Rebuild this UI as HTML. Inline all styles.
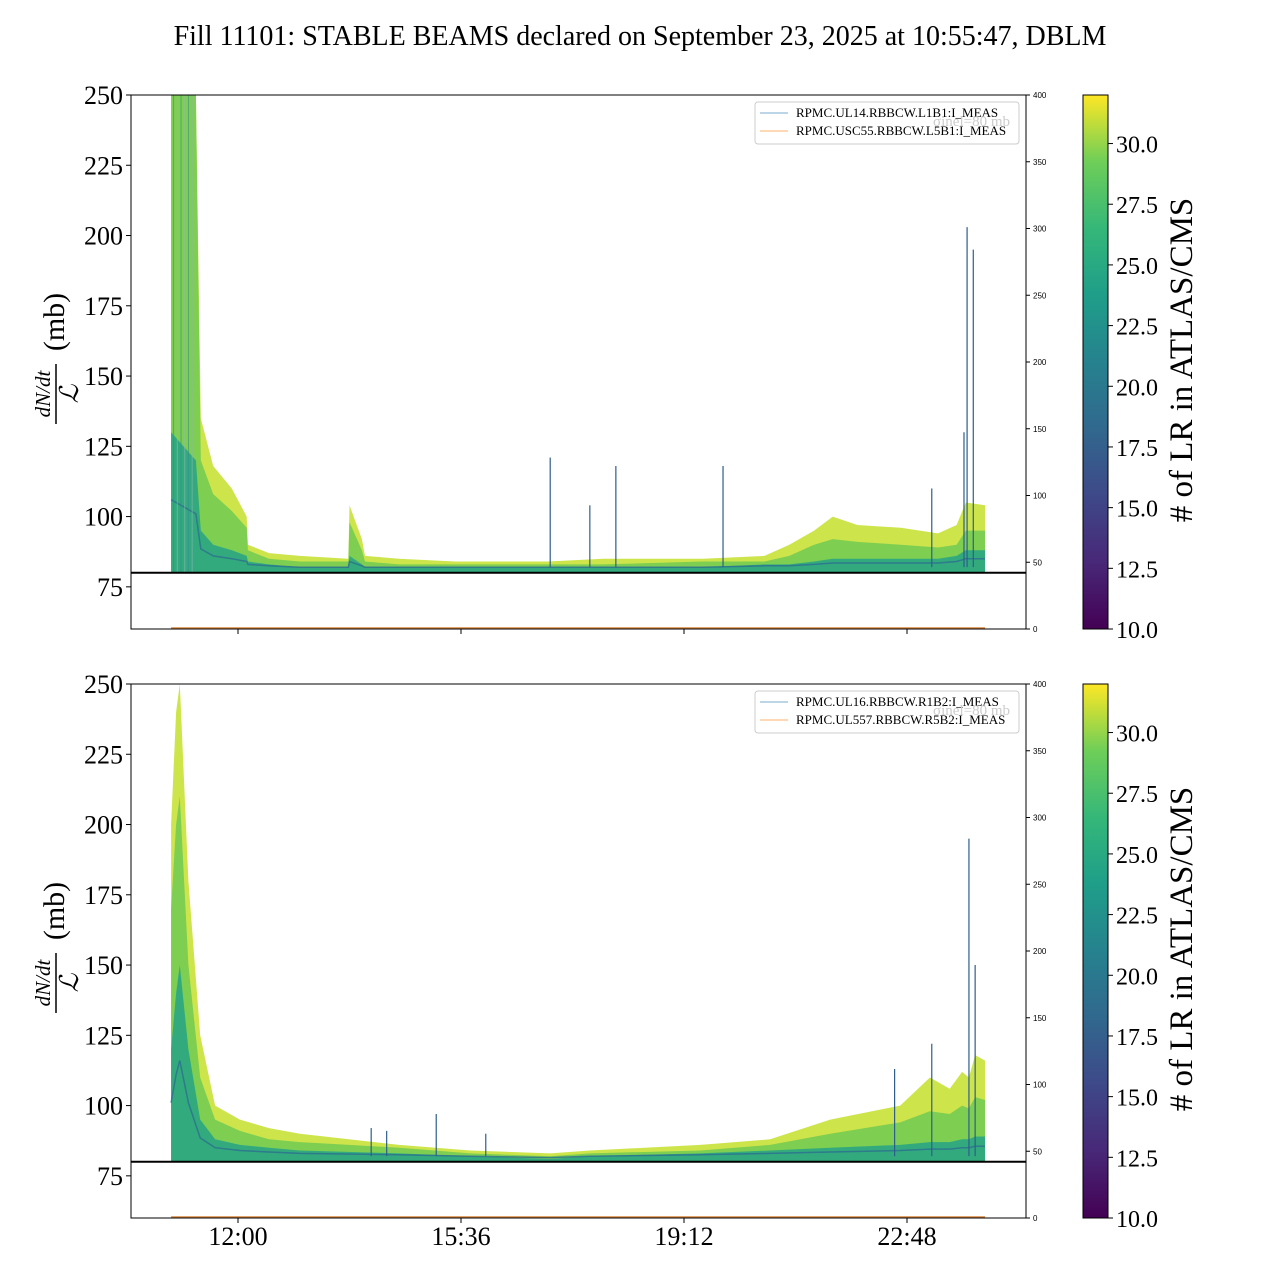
<!DOCTYPE html>
<html><head><meta charset="utf-8">
<style>
body{margin:0;background:#fff;}
svg{display:block;font-family:"Liberation Serif",serif;}
</style></head>
<body>
<svg id="fig" width="1280" height="1280" viewBox="0 0 1280 1280" xmlns="http://www.w3.org/2000/svg">
<defs>
<linearGradient id="vir" x1="0" y1="1" x2="0" y2="0">
<stop offset="0" stop-color="#440154"/><stop offset="0.125" stop-color="#482878"/><stop offset="0.25" stop-color="#3e4989"/>
<stop offset="0.375" stop-color="#31688e"/><stop offset="0.5" stop-color="#26828e"/><stop offset="0.625" stop-color="#1f9e89"/>
<stop offset="0.75" stop-color="#35b779"/><stop offset="0.875" stop-color="#6ece58"/><stop offset="1" stop-color="#fde725"/>
</linearGradient>
</defs>
<text x="640" y="45" text-anchor="middle" font-size="28">Fill 11101: STABLE BEAMS declared on September 23, 2025 at 10:55:47, DBLM</text>
</svg>
<script>
// ---- data (hours since midnight, value in mb) ----
const xTickLabels = ["12:00","15:36","19:12","22:48"];
const xTickHours = [12, 15.6, 19.2, 22.8];
const yTicks = [75,100,125,150,175,200,225,250];
const rTicks = [0,50,100,150,200,250,300,350,400];
const cbTicks = [10,12.5,15,17.5,20,22.5,25,27.5,30];

const topTimes  = [10.92,11.32,11.4,11.6,11.9,12.14,12.16,12.5,13.0,13.78,13.8,14.0,14.05,14.6,15.5,17.0,17.9,19.5,20.5,20.9,21.3,21.6,22.0,22.7,23.3,23.6,23.75,24.06];
const topUpper  = [250,250,135,118,110,100,90,87,86,85,104,92,86,85,84,84,85,85,86,90,95,100,97,96,94,97,105,104];
const topMid    = [250,250,120,108,102,96,88,85,84,84,98,88,84,83,83,83,83,84,84,86,90,92,91,90,89,90,95,95];
const topCore   = [130,120,95,90,88,86,84,83,82,82,86,83,82,82,82,82,82,82,83,83,84,85,85,85,85,86,88,88];
const topSpikeT = [17.04,17.68,18.1,19.83,23.2,23.72,23.77,23.87];
const topSpikeV = [121,104,118,118,110,130,203,195];

const botTimes  = [10.92,11.0,11.06,11.2,11.39,11.63,12.03,12.5,13.0,14.6,15.75,17.04,17.68,19.46,20.59,21.56,22.69,23.17,23.49,23.69,23.8,23.9,24.06];
const botUpper  = [200,240,250,180,125,100,95,92,90,86,84,83,84,86,88,95,100,110,106,112,110,118,116];
const botMid    = [170,200,210,150,110,95,91,88,87,85,83,82,83,84,86,90,94,98,97,100,99,103,102];
const botCore   = [120,140,150,120,95,88,86,85,84,83,82,81,82,83,84,85,86,87,87,88,88,89,89];
const botSpikeT = [14.15,14.4,15.2,16.0,22.6,23.2,23.8,23.9];
const botSpikeV = [92,91,97,90,113,122,195,150];

const NS="http://www.w3.org/2000/svg";
const svg=document.getElementById('fig');
function mk(tag,attrs,parent){const e=document.createElementNS(NS,tag);for(const k in attrs)e.setAttribute(k,attrs[k]);(parent||svg).appendChild(e);return e;}
const X0=131,X1=1026;
const hx=h=>238+(h-12)/3.6*223;

function panel(top,times,upper,mid,core,spT,spV,leg,pname,streaks){
  const Y0=top, Y1=top+534;
  const yv=v=>Y1-(v-60)/190*534;
  const g=mk('g',{});
  
  
  mk('rect',{x:X0,y:Y0,width:X1-X0,height:Y1-Y0,fill:'#fff'},g);
  function area(vals,color,op,name){
    let d='M'+hx(times[0])+','+yv(80);
    times.forEach((t,i)=>{d+=' L'+hx(t).toFixed(1)+','+yv(Math.min(250,vals[i])).toFixed(1);});
    d+=' L'+hx(times[times.length-1])+','+yv(80)+'Z';
    const p=mk('path',{d:d,fill:color,'fill-opacity':op},g);
    
    
  }
  area(upper,'#c5df2b',0.85,'upper-band');
  area(mid,'#74cb52',0.9,'mid-band');
  area(core,'#2aa683',0.9,'core-band');
  let d='';times.forEach((t,i)=>{d+=(i?' L':'M')+hx(t).toFixed(1)+','+yv(Math.min(250,(core[i]+80)/2+1)).toFixed(1);});
  const cl=mk('path',{d:d,fill:'none',stroke:'#2c6f8e','stroke-width':1.5,'stroke-opacity':0.8},g);
  
  
  if(streaks){
    for(let k=0;k<6;k++){
      const t=times[0]+0.04+k*0.06;
      const s=mk('line',{x1:hx(t),x2:hx(t),y1:yv(80),y2:yv(250),stroke:k%2?'#8fb7b5':'#3b8a8c','stroke-width':1,'stroke-opacity':0.6},g);
      
      
    }
  }
  spT.forEach((t,i)=>{
    const s=mk('line',{x1:hx(t),x2:hx(t),y1:yv(82),y2:yv(spV[i]),stroke:'#2d5e8c','stroke-width':1.2},g);
    
    
  });
  const l80=mk('line',{x1:X0,x2:X1,y1:yv(80),y2:yv(80),stroke:'#000','stroke-width':2},g);
  
  
  const cur=mk('line',{x1:hx(times[0]),x2:hx(times[times.length-1]),y1:Y1-1,y2:Y1-1,stroke:'#d9853b','stroke-width':1.5},g);
  
  
  mk('rect',{x:X0,y:Y0,width:X1-X0,height:Y1-Y0,fill:'none',stroke:'#000','stroke-width':1},g);
  yTicks.forEach(v=>{
    mk('line',{x1:X0-5,x2:X0,y1:yv(v),y2:yv(v),stroke:'#000'},g);
    const t=mk('text',{x:X0-8,y:yv(v)+9,'text-anchor':'end','font-size':26},g);
    t.textContent=v;
    
    
  });
  rTicks.forEach(v=>{
    const y=Y1-v/400*534;
    mk('line',{x1:X1,x2:X1+4,y1:y,y2:y,stroke:'#000'},g);
    const t=mk('text',{x:X1+7,y:y+3,'font-size':8,'font-family':'Liberation Sans, sans-serif'},g);
    t.textContent=v;
    
    
  });
  xTickHours.forEach(h=>{mk('line',{x1:hx(h),x2:hx(h),y1:Y1,y2:Y1+5,stroke:'#000'},g);});
  const yl=mk('g',{transform:`translate(56,${(Y0+Y1)/2}) rotate(-90)`},g);
  
  
  let t=mk('text',{x:-32,y:-6,'text-anchor':'middle','font-size':21,'font-style':'italic'},yl);t.textContent='dN/dt';
  mk('line',{x1:-62,x2:-2,y1:0,y2:0,stroke:'#000','stroke-width':1.5},yl);
  t=mk('text',{x:-32,y:22,'text-anchor':'middle','font-size':26,'font-style':'italic'},yl);t.textContent='ℒ';
  t=mk('text',{x:40,y:8,'text-anchor':'middle','font-size':30},yl);t.textContent='(mb)';
  const lg=mk('g',{},g);
  
  
  mk('rect',{x:755,y:Y0+7,width:264,height:42,rx:3,fill:'#fff','fill-opacity':0.85,stroke:'#ccc'},lg);
  mk('line',{x1:760,x2:788,y1:Y0+18,y2:Y0+18,stroke:'#1f77b4','stroke-opacity':0.6},lg);
  mk('line',{x1:760,x2:788,y1:Y0+36,y2:Y0+36,stroke:'#ff7f0e','stroke-opacity':0.6},lg);
  t=mk('text',{x:796,y:Y0+22,'font-size':13},lg);t.textContent=leg[0];
  t=mk('text',{x:796,y:Y0+40,'font-size':13},lg);t.textContent=leg[1];
  t=mk('text',{x:1010,y:Y0+31,'text-anchor':'end','font-size':15,fill:'#ccc'},lg);t.textContent='σinel=80 mb';
  const cb=mk('g',{},g);
  
  
  mk('rect',{x:1083,y:Y0,width:25,height:534,fill:'url(#vir)',stroke:'#000'},cb);
  cbTicks.forEach(v=>{
    const y=Y1-(v-10)/22*534;
    mk('line',{x1:1108,x2:1113,y1:y,y2:y,stroke:'#000'},cb);
    const tt=mk('text',{x:1116,y:y+9,'font-size':24},cb);tt.textContent=v.toFixed(1);
    
    
  });
  const ct=mk('text',{x:0,y:0,'font-size':33,'text-anchor':'middle',transform:`translate(1192,${(Y0+Y1)/2-2}) rotate(-90)`},cb);
  ct.textContent='# of LR in ATLAS/CMS';
  
  
}
panel(95,topTimes,topUpper,topMid,topCore,topSpikeT,topSpikeV,["RPMC.UL14.RBBCW.L1B1:I_MEAS","RPMC.USC55.RBBCW.L5B1:I_MEAS"],'top-panel',true);
panel(684,botTimes,botUpper,botMid,botCore,botSpikeT,botSpikeV,["RPMC.UL16.RBBCW.R1B2:I_MEAS","RPMC.UL557.RBBCW.R5B2:I_MEAS"],'bottom-panel',false);
xTickHours.forEach((h,i)=>{
  const t=mk('text',{x:hx(h),y:1245,'text-anchor':'middle','font-size':26});
  t.textContent=xTickLabels[i];
  
  
});
</script>
</body></html>
